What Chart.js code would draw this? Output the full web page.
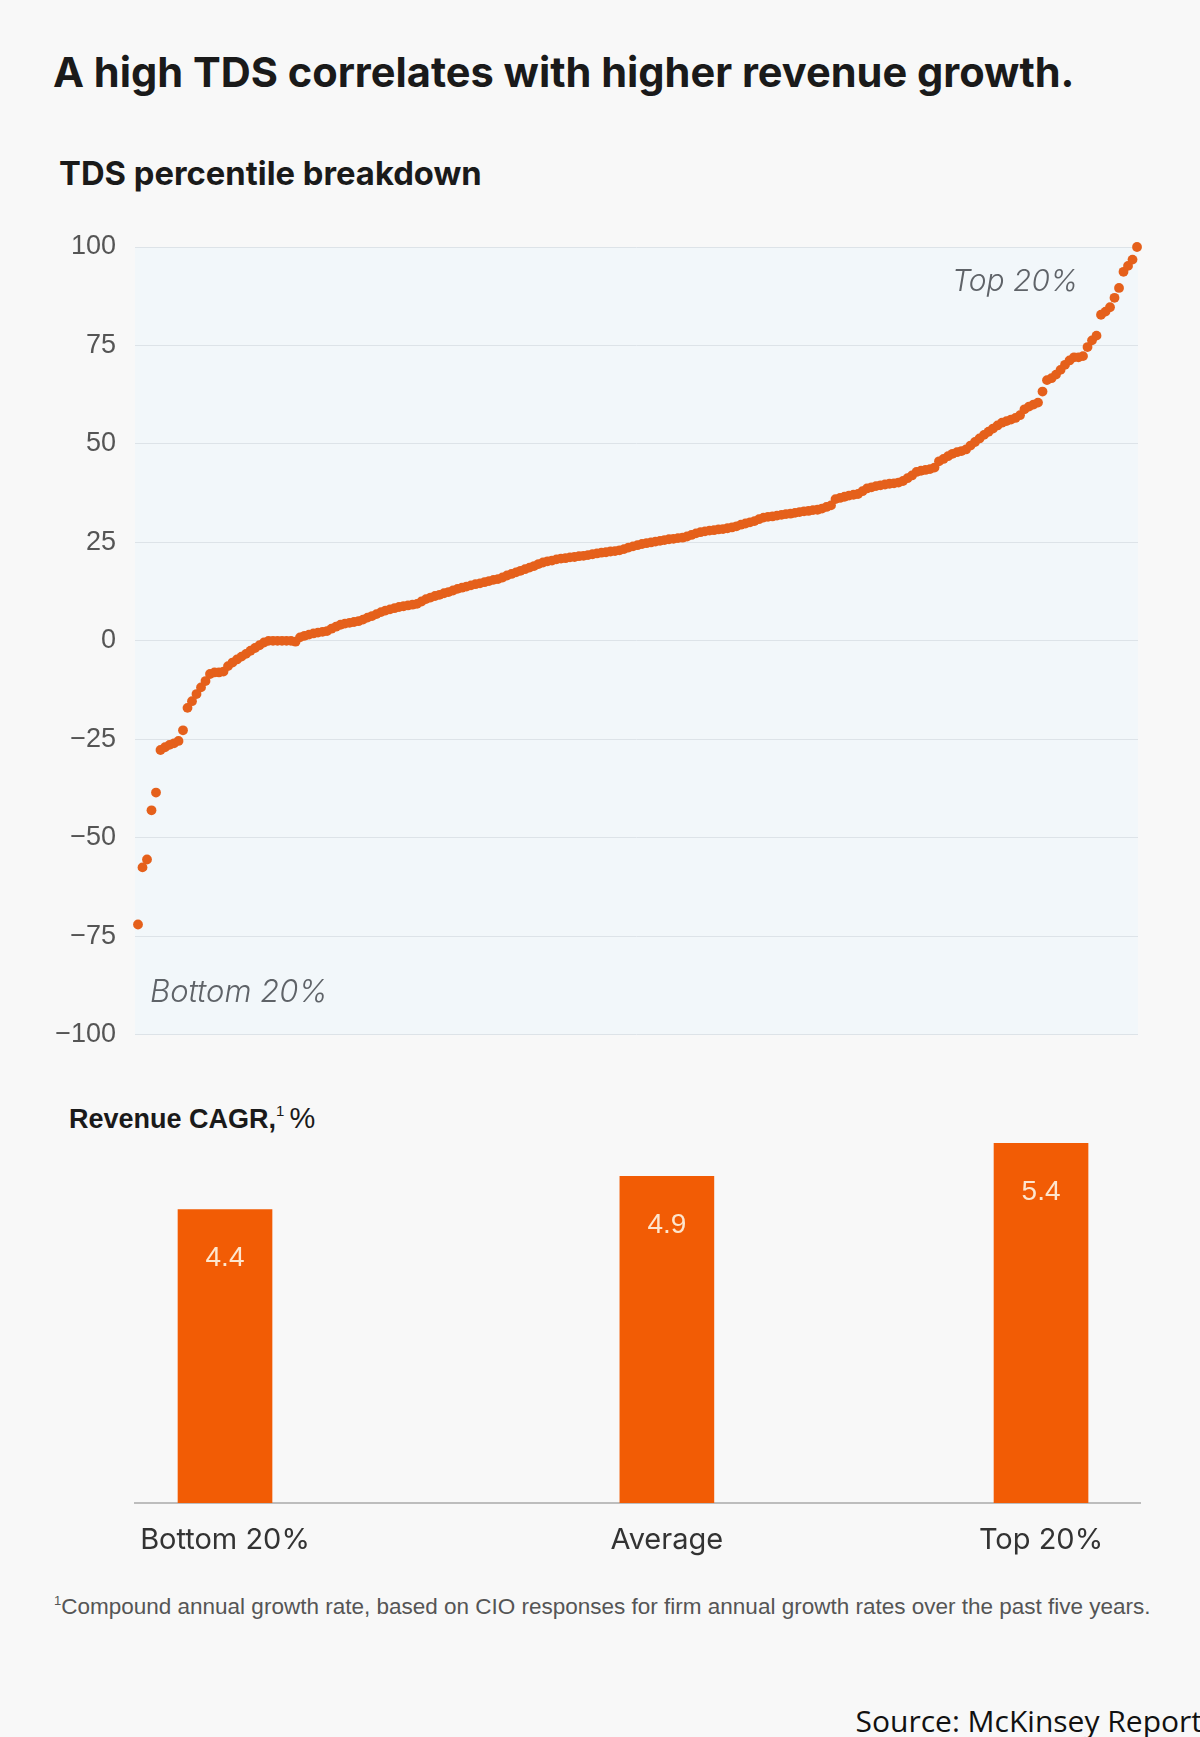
<!DOCTYPE html>
<html>
<head>
<meta charset="utf-8">
<title>TDS and revenue growth</title>
<script src="https://cdn.jsdelivr.net/npm/chart.js@4.4.1/dist/chart.umd.min.js"></script>
<style>
  html, body { margin: 0; padding: 0; background: #f8f8f8; }
  body {
    width: 1200px; height: 1737px; position: relative; overflow: hidden;
    font-family: "Liberation Sans", Arial, sans-serif; color: #1a1a1a;
  }
  .txt { position: absolute; white-space: nowrap; line-height: 1; }
  #title { left: 53px; top: 57px; font-family: Inter, sans-serif; font-size: 36px; font-weight: bold; }
  #sub1 { left: 59px; top: 163px; font-family: Inter, sans-serif; font-size: 28px; font-weight: bold; }
  #sub2 { left: 69px; top: 1103px; font-size: 27px; font-weight: bold; }
  #sub2 .sup { font-size: 15px; vertical-align: 12px; font-weight: normal; }
  #sub2 .pct { font-weight: normal; font-size: 29px; margin-left: 5px; }
  .note-in { font-family: Inter, sans-serif; font-style: italic; color: #5f6368; font-size: 30px; font-weight: 300; }
  #topNote { right: 122px; top: 265px; }
  #botNote { left: 150px; top: 975px; font-size: 31px; }
  #foot { left: 54px; top: 1594px; font-size: 22.5px; color: #555; }
  #foot .sup { font-size: 13px; vertical-align: 9px; }
  #source { right: -2px; top: 1706px; font-size: 30px; font-family: "Open Sans", sans-serif; color: #111; }
  canvas { position: absolute; left: 0; }
  #tdsChart { top: 200px; }
  #cagrChart { top: 1100px; }
</style>
</head>
<body>
<div class="txt" id="title">A high TDS correlates with higher revenue growth.</div>
<div class="txt" id="sub1">TDS percentile breakdown</div>
<canvas id="tdsChart" width="1200" height="870"></canvas>
<div class="txt note-in" id="topNote">Top 20%</div>
<div class="txt note-in" id="botNote">Bottom 20%</div>
<div class="txt" id="sub2">Revenue CAGR,<span class="sup">1</span><span class="pct">%</span></div>
<canvas id="cagrChart" width="1200" height="480"></canvas>
<div class="txt" id="foot"><span class="sup">1</span>Compound annual growth rate, based on CIO responses for firm annual growth rates over the past five years.</div>
<div class="txt" id="source">Source: McKinsey Report</div>

<script>
    // TDS score of each firm, sorted low to high
    const tdsScores = [
      -72, -57.5, -55.5, -43, -38.5, -27.7, -27, -26.4, -26, -25.4,
      -22.7, -17, -15.3, -13.5, -11.8, -10.2, -8.4, -8, -8, -7.8,
      -6.4, -5.5, -4.7, -4, -3.3, -2.5, -1.8, -1.1, -0.4, 0,
      0, 0, 0, 0, 0, -0.2, 0.9, 1.3, 1.6, 1.9,
      2.1, 2.3, 2.5, 3.1, 3.6, 4.1, 4.4, 4.6, 4.8, 5.0,
      5.4, 5.9, 6.3, 6.8, 7.3, 7.7, 8.0, 8.3, 8.6, 8.8,
      9.0, 9.2, 9.4, 10.0, 10.6, 11.0, 11.4, 11.7, 12.1, 12.4,
      12.8, 13.2, 13.5, 13.8, 14.1, 14.4, 14.6, 14.9, 15.2, 15.5,
      15.7, 16.1, 16.6, 17.0, 17.4, 17.8, 18.2, 18.6, 19.0, 19.5,
      19.9, 20.2, 20.4, 20.7, 20.9, 21.0, 21.2, 21.3, 21.5, 21.6,
      21.8, 22.0, 22.2, 22.4, 22.5, 22.7, 22.8, 23.0, 23.3, 23.7,
      24.0, 24.3, 24.6, 24.8, 25.0, 25.2, 25.4, 25.6, 25.8, 25.9,
      26.1, 26.2, 26.5, 26.9, 27.3, 27.6, 27.8, 28.0, 28.1, 28.3,
      28.4, 28.6, 28.8, 29.1, 29.5, 29.8, 30.1, 30.4, 30.9, 31.3,
      31.5, 31.6, 31.8, 32.0, 32.2, 32.3, 32.5, 32.7, 32.9, 33.0,
      33.2, 33.3, 33.6, 34.0, 34.4, 36.0, 36.3, 36.6, 36.9, 37.1,
      37.3, 38.0, 38.7, 39.0, 39.3, 39.5, 39.7, 39.9, 40.0, 40.2,
      40.6, 41.3, 42.0, 42.9, 43.2, 43.4, 43.6, 44.0, 45.6, 46.2,
      46.9, 47.5, 47.9, 48.2, 48.6, 49.6, 50.5, 51.4, 52.3, 53.1,
      53.9, 54.7, 55.4, 55.8, 56.2, 56.6, 57.3, 58.8, 59.5, 60.0,
      60.5, 63.3, 66.2, 66.7, 67.6, 68.8, 70.1, 71.2, 72.0, 72.0,
      72.3, 74.6, 76.3, 77.5, 82.8, 83.6, 84.7, 87.1, 89.6, 93.7,
      95.2, 96.8, 100
    ];
    const tdsTicks = [100, 75, 50, 25, 0, -25, -50, -75, -100];

    // Revenue CAGR per group
    const groupLabels = ["Bottom 20%", "Average", "Top 20%"];
    const cagrValues = [4.4, 4.9, 5.4];

    const dotColor = "#e5601b";
    const barColor = "#f25c05";

    // ajusta o tamanho da fonte para a largura do original, mantendo a linha de base
    function fitToWidth(id, target, baseline) {
      const el = document.getElementById(id);
      const size = parseFloat(getComputedStyle(el).fontSize);
      const w = el.getBoundingClientRect().width;
      const newSize = size * target / w;
      el.style.fontSize = newSize + "px";
      el.style.top = (baseline - 0.8635 * newSize) + "px";
    }
    fitToWidth("title", 1022, 88);
    fitToWidth("sub1", 423, 185);

    // fundo azulado da área do gráfico
    const plotBackground = {
      id: "plotBackground",
      beforeDraw(chart) {
        const { ctx, chartArea } = chart;
        ctx.save();
        ctx.fillStyle = "#f2f7fa";
        ctx.fillRect(chartArea.left, chartArea.top, chartArea.right - chartArea.left, chartArea.bottom - chartArea.top);
        ctx.restore();
      }
    };

    function formatTick(v) {
      return v < 0 ? "\u2212" + Math.abs(v) : String(v);
    }

    new Chart(document.getElementById("tdsChart"), {
      type: "scatter",
      data: {
        datasets: [{
          data: tdsScores.map((v, i) => ({ x: i, y: v })),
          backgroundColor: dotColor,
          borderWidth: 0,
          pointRadius: 4.9,
          pointHoverRadius: 4.9,
          clip: false
        }]
      },
      options: {
        responsive: false,
        animation: false,
        events: [],
        layout: { padding: { top: 47, right: 62, bottom: 17, left: 0 } },
        plugins: { legend: { display: false }, tooltip: { enabled: false } },
        scales: {
          x: {
            type: "linear",
            display: false,
            min: -0.667,
            max: tdsScores.length - 1 + 0.22
          },
          y: {
            min: -100,
            max: 100,
            afterBuildTicks: scale => { scale.ticks = tdsTicks.map(v => ({ value: v })); },
            afterFit: scale => { scale.width = 135; },
            border: { display: false },
            grid: { color: "#dde3e8", lineWidth: 1, drawTicks: false },
            ticks: {
              padding: 19,
              color: "#555",
              font: { family: "Liberation Sans", size: 27 },
              callback: formatTick
            }
          }
        }
      },
      plugins: [plotBackground]
    });

    // posição horizontal de cada barra (layout do original, não é dado)
    const barSlots = [0, 1.083, 2];

    const barValueLabels = {
      id: "barValueLabels",
      afterDatasetsDraw(chart) {
        const { ctx } = chart;
        const meta = chart.getDatasetMeta(0);
        ctx.save();
        ctx.fillStyle = "#fde6cf";
        ctx.font = "28px 'Liberation Sans'";
        ctx.textAlign = "center";
        ctx.textBaseline = "middle";
        meta.data.forEach((bar, i) => {
          ctx.fillText(cagrValues[i].toFixed(1), bar.x, bar.y + 49);
        });
        ctx.restore();
      }
    };

    new Chart(document.getElementById("cagrChart"), {
      type: "bar",
      data: {
        datasets: [{
          data: cagrValues.map((v, i) => ({ x: barSlots[i], y: v })),
          backgroundColor: barColor,
          borderWidth: 0,
          barThickness: 94
        }]
      },
      options: {
        responsive: false,
        animation: false,
        events: [],
        layout: { padding: { top: 43, right: 60, bottom: 0, left: 135 } },
        plugins: { legend: { display: false }, tooltip: { enabled: false } },
        scales: {
          x: {
            type: "linear",
            offset: false,
            min: -0.2206,
            max: 2.2426,
            afterBuildTicks: scale => { scale.ticks = barSlots.map(v => ({ value: v })); },
            afterFit: scale => { scale.height = 77; },
            grid: { display: false, offset: false },
            border: { display: true, color: "#bdbdbd", width: 2 },
            ticks: {
              padding: 12,
              color: "#333",
              font: { family: "Inter", size: 29 },
              callback: (v, i) => groupLabels[i]
            }
          },
          y: {
            display: false,
            min: 0,
            max: 5.4
          }
        }
      },
      plugins: [barValueLabels]
    });
</script>
</body>
</html>
